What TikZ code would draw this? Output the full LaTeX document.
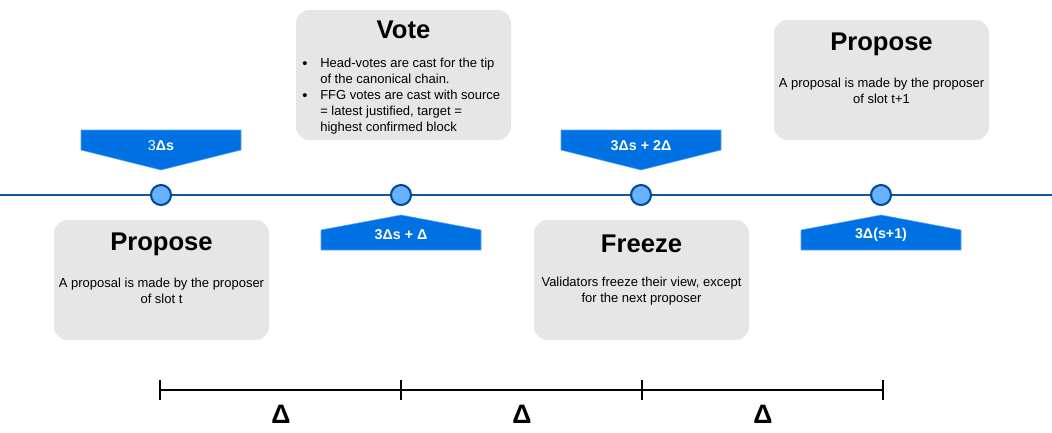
\documentclass[tikz,border=0pt]{standalone}
\usepackage{fontspec}
\setmainfont{Liberation Sans}
\usepackage{xcolor}
\usetikzlibrary{positioning}

\definecolor{slotline}{HTML}{10589B}
\definecolor{slotdark}{HTML}{004C99}
\definecolor{slotfill}{HTML}{66B2FF}
\definecolor{tagblue}{HTML}{0071E3}
\definecolor{tagedge}{HTML}{5AA8F0}
\definecolor{cardgray}{HTML}{E6E6E6}

\begin{document}
\begin{tikzpicture}[
    x=0.75pt, y=-0.75pt,
    card/.style={draw=none, fill=cardgray, rounded corners=10pt},
    title/.style={font=\fontsize{19.2}{22}\selectfont\bfseries, inner sep=0pt},
    body/.style={font=\fontsize{9.75}{12}\selectfont, align=center, inner sep=0pt},
    tag/.style={fill=tagblue, draw=tagedge, line width=0.4pt},
    tagtext/.style={font=\fontsize{10.7}{12}\selectfont, text=white, inner sep=0pt},
    slot/.style={circle, draw=slotdark, fill=slotfill, line width=1.6pt, minimum size=15pt, inner sep=0pt},
    axis/.style={draw=slotline, line width=1.5pt},
    ruler/.style={draw=black, line width=2.2pt},
    delta/.style={font=\fontsize{20}{22}\selectfont\bfseries, inner sep=0pt}
]
\useasboundingbox (0,0) rectangle (1052,432);

% Timeline
\coordinate (lineL) at (0,195);
\coordinate (lineR) at (1052,195);
\draw[axis] (lineL) -- (lineR);
\node[slot] (t0) at (161,195) {};
\node[slot] (t1) at (401,195) {};
\node[slot] (t2) at (641,195) {};
\node[slot] (t3) at (881,195) {};

% Time tags
\path[tag] (81,130) -- (241,130) -- (241,150) -- (161,170) -- (81,150) -- cycle;
\node[tagtext] (tag0) at (161,146) {3\textbf{Δs}};
\path[tag] (321,250) -- (321,230) -- (401,215) -- (481,230) -- (481,250) -- cycle;
\node[tagtext] (tag1) at (401,235) {\textbf{3Δs + Δ}};
\path[tag] (561,130) -- (721,130) -- (721,150) -- (641,170) -- (561,150) -- cycle;
\node[tagtext] (tag2) at (641,146) {\textbf{3Δs + 2Δ}};
\path[tag] (801,250) -- (801,230) -- (881,215) -- (961,230) -- (961,250) -- cycle;
\node[tagtext] (tag3) at (881,235) {\textbf{3Δ(s+1)}};

% Cards
\path[card] (54,220) rectangle (269,340);
\node[title] (propT) at (161.5,244) {Propose};
\node[body] (propB) at (161.5,291) {A proposal is made by the proposer\\of slot t};

\path[card] (296,10) rectangle (511,140);
\node[title] (voteT) at (403.5,30) {Vote};
\node[body, font=\fontsize{11}{12}\selectfont] (bul1) at (305,65) {•};
\node[body, align=left, anchor=north west] (vote1) at (320,58) {Head-votes are cast for the tip\\of the canonical chain.};
\node[body, font=\fontsize{11}{12}\selectfont] (bul2) at (305,97) {•};
\node[body, align=left, anchor=north west] (vote2) at (320,90) {FFG votes are cast with source\\= latest justified, target =\\highest confirmed block};

\path[card] (534,220) rectangle (749,340);
\node[title] (frzT) at (641.5,244) {Freeze};
\node[body] (frzB) at (641.5,291) {Validators freeze their view, except\\for the next proposer};

\path[card] (774,20) rectangle (989,140);
\node[title] (nextT) at (881.5,44) {Propose};
\node[body] (nextB) at (881.5,91) {A proposal is made by the proposer\\of slot t+1};

% Delta ruler
\coordinate (s0) at (160,390);
\coordinate (s1) at (401,390);
\coordinate (s2) at (642,390);
\coordinate (s3) at (883,390);
\draw[ruler] (s0) -- (s3);
\draw[ruler, line width=1.6pt] (s0) ++(0,-10) -- ++(0,20);
\draw[ruler, line width=1.6pt] (s1) ++(0,-10) -- ++(0,20);
\draw[ruler, line width=1.6pt] (s2) ++(0,-10) -- ++(0,20);
\draw[ruler, line width=1.6pt] (s3) ++(0,-10) -- ++(0,20);
\node[delta] (d1) at (281,414) {Δ};
\node[delta] (d2) at (522,414) {Δ};
\node[delta] (d3) at (763,414) {Δ};

\end{tikzpicture}
\end{document}
